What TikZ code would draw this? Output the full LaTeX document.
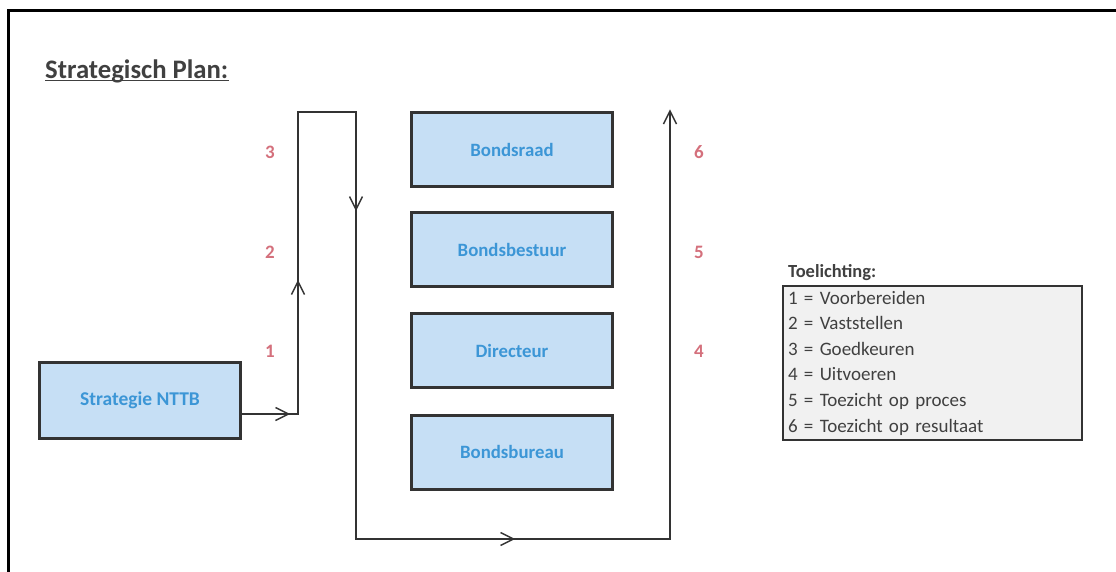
\documentclass[tikz,border=0pt]{standalone}
\usepackage{fontspec}
\setmainfont{Carlito}
\usetikzlibrary{decorations.markings}

\definecolor{boxfill}{HTML}{C6DFF5}
\definecolor{boxtext}{HTML}{3C96D6}
\definecolor{numred}{HTML}{D4707C}
\definecolor{ink}{HTML}{333333}
\definecolor{titleink}{HTML}{404040}
\definecolor{legendfill}{HTML}{F1F1F1}

\tikzset{
  orgbox/.style={draw=ink, line width=3pt, fill=boxfill, minimum width=201pt,
    minimum height=74pt, inner sep=0pt, text=boxtext,
    font=\fontsize{18.8}{20}\selectfont\bfseries},
  numlabel/.style={text=numred, inner sep=0pt, font=\fontsize{19}{20}\selectfont\bfseries},
  flow/.style={draw=ink, line width=1.5pt, line join=miter},
  vtip/.code={\draw[ink, line width=1.5pt] (-13pt,-6.5pt) -- (0pt,0pt) -- (-13pt,6.5pt);},
  legendbox/.style={draw=ink, line width=2.5pt, fill=legendfill, minimum width=299pt,
    minimum height=154pt, inner sep=0pt, text width=289pt, align=left, text=titleink,
    font=\fontsize{19}{25.6}\selectfont},
}

\begin{document}
\begin{tikzpicture}[x=1pt, y=-1pt]
  \useasboundingbox (0,0) rectangle (1116,571);
  \clip (0,0) rectangle (1116,571);

  % page frame (runs off the right and bottom edges)
  \draw[line width=3pt, black] (8.5,620) -- (8.5,10.5) -- (1150,10.5);

  % heading
  \node[anchor=base west, inner sep=0pt, text=titleink,
        font=\fontsize{26.7}{28}\selectfont\bfseries] (title) at (45,78) {Strategisch Plan:};
  \draw[titleink, line width=1.6pt] ([yshift=-2.5pt]title.base west) -- ([yshift=-2.5pt]title.base east);

  % organisation boxes
  \node[orgbox] (raad)    at (512,149.5) {Bondsraad};
  \node[orgbox] (bestuur) at (512,249.5) {Bondsbestuur};
  \node[orgbox] (dir)     at (512,350.5) {Directeur};
  \node[orgbox] (bureau)  at (512,452)   {Bondsbureau};
  \node[orgbox, minimum height=76pt, font=\fontsize{19.5}{20}\selectfont\bfseries] (snt) at (140,400.5) {Strategie NTTB};

  % corners of the process line
  \coordinate (c1) at (298,414);
  \coordinate (c2) at (298,112);
  \coordinate (c3) at (356,112);
  \coordinate (c4) at (356,539);
  \coordinate (c5) at (670,539);
  \coordinate (c6) at (670,111);

  \draw[flow, postaction={decorate}, decoration={markings,
      mark=at position 46.5pt with {\tikzset{vtip}},
      mark=at position 188.5pt with {\tikzset{vtip}},
      mark=at position 513.5pt with {\tikzset{vtip}},
      mark=at position 1000.5pt with {\tikzset{vtip}},
      mark=at position 1 with {\tikzset{vtip}}}]
    (snt.east |- c1) -- (c1) -- (c2) -- (c3) -- (c4) -- (c5) -- (c6);

  % step numbers
  \node[numlabel] (n3) at (270,152) {3};
  \node[numlabel] (n2) at (270,252) {2};
  \node[numlabel] (n1) at (270,351) {1};
  \node[numlabel] (n6) at (699,152) {6};
  \node[numlabel] (n5) at (699,252) {5};
  \node[numlabel] (n4) at (699,351) {4};

  % legend
  \node[legendbox] (legend) at (932.5,363) {1 = Voorbereiden\\
    2 = Vaststellen\\
    3 = Goedkeuren\\
    4 = Uitvoeren\\
    5 = Toezicht op proces\\
    6 = Toezicht op resultaat};
  \node[anchor=base west, inner sep=0pt, text=titleink,
        font=\fontsize{18.5}{20}\selectfont\bfseries] (legtitle) at (788,277) {Toelichting:};
\end{tikzpicture}
\end{document}
